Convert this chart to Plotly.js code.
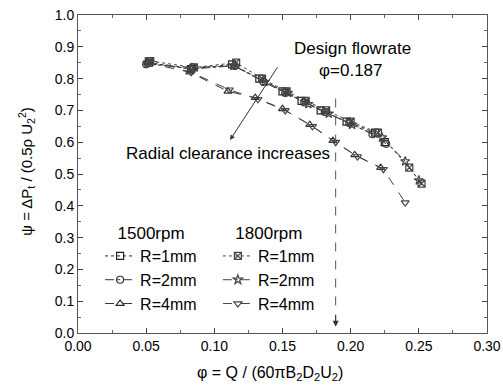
<!DOCTYPE html>
<html>
<head>
<meta charset="utf-8">
<script src="https://cdn.plot.ly/plotly-3.0.1.min.js"></script>
<style>html,body{margin:0;padding:0;background:#fff;}#chart{width:503px;height:385px;}</style>
</head>
<body>
<div id="chart"></div>
<script>
// Data
var x1500_R1 = [0.052, 0.083, 0.113, 0.133, 0.150, 0.164, 0.178, 0.197, 0.218, 0.225];
var y1500_R1 = [0.850, 0.830, 0.845, 0.800, 0.760, 0.730, 0.700, 0.665, 0.630, 0.600];
var x1500_R2 = [0.050, 0.084, 0.115, 0.136, 0.152, 0.166, 0.181, 0.199, 0.216, 0.226];
var y1500_R2 = [0.845, 0.835, 0.840, 0.790, 0.755, 0.725, 0.695, 0.660, 0.625, 0.595];
var x1500_R4 = [0.051, 0.082, 0.110, 0.130, 0.150, 0.170, 0.187, 0.203, 0.222];
var y1500_R4 = [0.850, 0.820, 0.760, 0.740, 0.705, 0.655, 0.605, 0.560, 0.520];
var x1800_R1 = [0.053, 0.085, 0.116, 0.135, 0.153, 0.167, 0.182, 0.200, 0.220, 0.243, 0.252];
var y1800_R1 = [0.855, 0.835, 0.850, 0.800, 0.760, 0.730, 0.700, 0.665, 0.630, 0.520, 0.470];
var x1800_R2 = [0.051, 0.083, 0.114, 0.137, 0.154, 0.169, 0.184, 0.201, 0.223, 0.240, 0.250];
var y1800_R2 = [0.850, 0.830, 0.840, 0.790, 0.755, 0.720, 0.690, 0.655, 0.615, 0.540, 0.480];
var x1800_R4 = [0.052, 0.083, 0.111, 0.132, 0.152, 0.172, 0.189, 0.205, 0.224, 0.240];
var y1800_R4 = [0.860, 0.820, 0.765, 0.735, 0.700, 0.650, 0.600, 0.555, 0.515, 0.410];
var seriesNames = ['R=1mm', 'R=2mm', 'R=4mm'];
var designPhi = 0.189;
var xTickVals = [0.00, 0.05, 0.10, 0.15, 0.20, 0.25, 0.30];
var xTickText = ['0.00', '0.05', '0.10', '0.15', '0.20', '0.25', '0.30'];
var yTickVals = [0.0, 0.1, 0.2, 0.3, 0.4, 0.5, 0.6, 0.7, 0.8, 0.9, 1.0];
var yTickText = ['0.0', '0.1', '0.2', '0.3', '0.4', '0.5', '0.6', '0.7', '0.8', '0.9', '1.0'];

var F = 'Liberation Sans, Arial, sans-serif';
function tr(x, y, name, sym, col, dash, leg, grp) {
  return {x: x, y: y, name: name, legend: leg, legendgroup: grp, type: 'scatter', mode: 'lines+markers',
    line: {color: col, width: 1, dash: dash},
    marker: {symbol: sym, size: 7, color: col, line: {color: col, width: 1.2}}};
}
var data = [
  tr(x1500_R1, y1500_R1, seriesNames[0], 'square-open', '#222', 'dot', 'legend', 'a1'),
  tr(x1500_R2, y1500_R2, seriesNames[1], 'circle-open', '#333', 'dashdot', 'legend', 'a2'),
  tr(x1500_R4, y1500_R4, seriesNames[2], 'triangle-up-open', '#333', 'dash', 'legend', 'a3'),
  tr(x1800_R1, y1800_R1, seriesNames[0], 'square-x-open', '#444', 'dot', 'legend2', 'b1'),
  tr(x1800_R2, y1800_R2, seriesNames[1], 'star-open', '#444', 'dashdot', 'legend2', 'b2'),
  tr(x1800_R4, y1800_R4, seriesNames[2], 'triangle-down-open', '#444', 'dash', 'legend2', 'b3')
];
var legBase = {orientation: 'v', xanchor: 'left', yanchor: 'top', bgcolor: 'rgba(0,0,0,0)',
  font: {family: F, size: 16, color: '#000'}, itemwidth: 30, tracegroupgap: 0};
var layout = {
  width: 503, height: 385,
  margin: {l: 78, r: 16, t: 15, b: 52},
  paper_bgcolor: '#fff', plot_bgcolor: '#fff',
  font: {family: F, color: '#000'},
  showlegend: true,
  legend: Object.assign({}, legBase, {x: 0.054, y: 0.365, title: {text: '1500rpm', side: 'top center', font: {family: F, size: 17}}}),
  legend2: Object.assign({}, legBase, {x: 0.342, y: 0.365, title: {text: '1800rpm', side: 'top center', font: {family: F, size: 17}}}),
  xaxis: {range: [0, 0.30], tickvals: xTickVals, ticktext: xTickText, ticks: 'inside', ticklen: 5,
    tickcolor: '#444', showline: true, linecolor: '#555', linewidth: 1, mirror: 'ticks', showgrid: false, zeroline: false,
    tickfont: {family: F, size: 14, color: '#000'},
    minor: {dtick: 0.025, ticks: 'inside', ticklen: 3, tickcolor: '#666'}},
  yaxis: {range: [0, 1.0], tickvals: yTickVals, ticktext: yTickText, ticks: 'inside', ticklen: 5,
    tickcolor: '#444', showline: true, linecolor: '#555', linewidth: 1, mirror: 'ticks', showgrid: false, zeroline: false,
    tickfont: {family: F, size: 14, color: '#000'},
    minor: {dtick: 0.05, ticks: 'inside', ticklen: 3, tickcolor: '#666'}},
  shapes: [
    {type: 'line', xref: 'x', yref: 'y', x0: designPhi, x1: designPhi, y0: 0.03, y1: 0.755,
     line: {color: '#555', width: 1, dash: 'dash'}}
  ],
  annotations: [
    {xref: 'paper', yref: 'paper', x: 0.469, y: -0.126, xanchor: 'center', yanchor: 'middle', showarrow: false,
     text: 'φ = Q / (60πB<sub>2</sub>D<sub>2</sub>U<sub>2</sub>)', font: {family: F, size: 16, color: '#000'}},
    {xref: 'paper', yref: 'paper', x: -0.125, y: 0.51, xanchor: 'center', yanchor: 'middle', textangle: -90, showarrow: false,
     text: 'ψ = ΔP<sub>t</sub> / (0.5ρ U<sub>2</sub><sup>2</sup>)', font: {family: F, size: 15, color: '#000'}},
    {xref: 'x', yref: 'y', x: 0.201, y: 0.895, text: 'Design flowrate', showarrow: false,
     font: {family: F, size: 17, color: '#000'}},
    {xref: 'x', yref: 'y', x: 0.200, y: 0.826, text: 'φ=0.187', showarrow: false,
     font: {family: F, size: 17, color: '#000'}},
    {xref: 'x', yref: 'y', x: 0.110, y: 0.566, text: 'Radial clearance increases', showarrow: false,
     font: {family: F, size: 17, color: '#000'}},
    {xref: 'x', yref: 'y', axref: 'x', ayref: 'y', x: 0.1115, y: 0.607, ax: 0.147, ay: 0.84,
     showarrow: true, arrowhead: 2, arrowsize: 1, arrowwidth: 1, arrowcolor: '#333', text: ''},
    {xref: 'x', yref: 'y', axref: 'x', ayref: 'y', x: designPhi, y: 0.02, ax: designPhi, ay: 0.06,
     showarrow: true, arrowhead: 2, arrowsize: 1.2, arrowwidth: 1, arrowcolor: '#333', text: ''}
  ]
};
Plotly.newPlot('chart', data, layout, {displayModeBar: false, staticPlot: true});
</script>
</body>
</html>
